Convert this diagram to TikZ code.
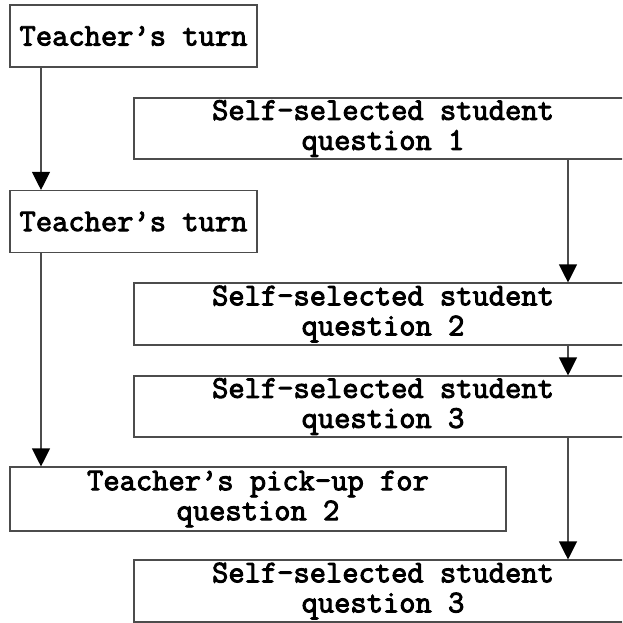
\documentclass[tikz,border=0pt]{standalone}
\usepackage{fontspec}
\newfontfamily\boxmono{Latin Modern Mono}[FakeBold=3]
\usetikzlibrary{arrows.meta}
\begin{document}
\begin{tikzpicture}[x=1pt,y=-1pt,
  box/.style={draw=black!70,line width=1.1pt,rectangle,inner sep=0pt,
    align=center,font=\boxmono\fontsize{31.6}{30}\selectfont},
  flow/.style={draw=black!70,line width=1.1pt,
    -{Triangle[length=18pt,width=18pt,fill=black,color=black]}}]
\useasboundingbox (0,0) rectangle (622,623);
\begin{scope}
\clip (0,0) rectangle (622,623);
% teacher column
\node[box,minimum width=247pt,minimum height=62pt] (t1) at (133.5,36) {Teacher’s turn};
\node[box,minimum width=247pt,minimum height=62pt] (t2) at (133.5,221.5) {Teacher’s turn};
\node[box,minimum width=496pt,minimum height=64pt] (p) at (258,499) {Teacher’s pick-up for\\question 2};
% student column
\node[box,minimum width=498pt,minimum height=61pt] (s1) at (383,128.5) {Self-selected student\\question 1};
\node[box,minimum width=498pt,minimum height=62pt] (s2) at (383,314) {Self-selected student\\question 2};
\node[box,minimum width=498pt,minimum height=61pt] (s3) at (383,406.5) {Self-selected student\\question 3};
\node[box,minimum width=498pt,minimum height=62pt] (s4) at (383,591) {Self-selected student\\question 3};
% connectors
\draw[flow] (t1.south -| 41,0) -- (t2.north -| 41,0);
\draw[flow] (t2.south -| 41,0) -- (p.north -| 41,0);
\draw[flow] (s1.south -| 568,0) -- (s2.north -| 568,0);
\draw[flow] (s2.south -| 568,0) -- (s3.north -| 568,0);
\draw[flow] (s3.south -| 568,0) -- (s4.north -| 568,0);
\end{scope}
\end{tikzpicture}
\end{document}
